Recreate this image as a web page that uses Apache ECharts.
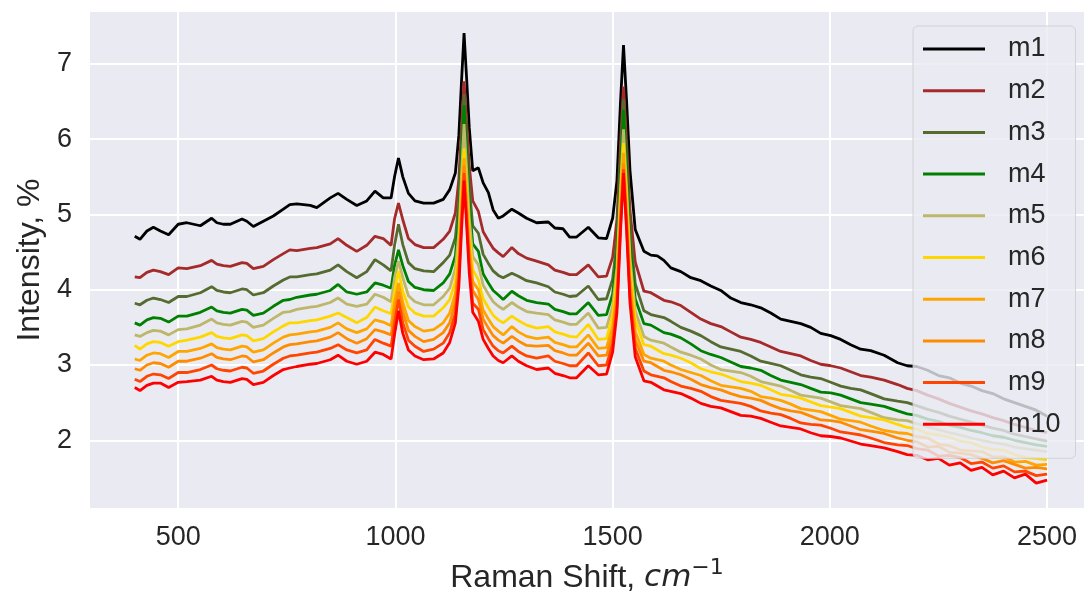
<!DOCTYPE html>
<html>
<head>
<meta charset="utf-8">
<script src="https://cdn.jsdelivr.net/npm/echarts/dist/echarts.min.js"></script>
<style>
html,body{margin:0;padding:0;background:#ffffff;}
#chart{width:1084px;height:594px;}
</style>
</head>
<body>
<div id="chart"></div>
<script>
const xs = [400,412,428,443,459,478,500,520,551,577,589,604,620,647,658,673,696,719,742,757,773,804,819,850,868,888,911,934,953,972,990,998,1007,1017,1030,1045,1065,1088,1110,1125,1138,1146,1152,1158,1164,1170,1178,1191,1202,1214,1225,1237,1248,1268,1283,1302,1325,1352,1367,1386,1401,1417,1444,1467,1486,1500,1510,1518,1525,1532,1540,1552,
1572,1588,1603,1618,1634,1657,1680,1703,1726,1749,1772,1795,1818,1841,1864,1887,1910,1933,1956,1979,2002,2025,2048,2071,2094,2125,2156,2178,2200,
2225,2250,2275,2300,2325,2350,2375,2400,2425,2450,2475,2500];

const m1 = [4.71,4.67,4.78,4.83,4.78,4.73,4.87,4.89,4.85,4.95,
4.89,4.87,4.87,4.94,4.91,4.84,4.91,4.98,5.07,5.13,
5.14,5.12,5.09,5.22,5.28,5.20,5.12,5.18,5.31,5.22,
5.22,5.50,5.75,5.50,5.28,5.18,5.15,5.15,5.20,5.33,
5.55,6.05,6.75,7.41,6.80,6.15,5.58,5.62,5.42,5.29,
5.06,4.95,4.98,5.07,5.02,4.95,4.89,4.90,4.82,4.81,
4.70,4.70,4.83,4.69,4.68,4.95,5.45,6.48,7.25,6.52,
5.58,4.80,
4.51,4.46,4.45,4.39,4.29,4.24,4.16,4.12,4.05,3.99,3.89,3.83,3.80,3.76,3.69,3.61,3.58,3.55,3.50,3.42,3.39,3.34,3.27,3.21,3.19,3.13,3.03,2.99,2.98,
2.93,2.86,2.83,2.76,2.72,2.66,2.62,2.55,2.50,2.45,2.40,2.32];

const m2 = [4.17,4.16,4.23,4.26,4.24,4.20,4.29,4.28,4.32,4.39,
4.34,4.32,4.31,4.36,4.35,4.28,4.31,4.40,4.48,4.53,
4.52,4.55,4.56,4.61,4.68,4.59,4.51,4.59,4.71,4.68,
4.59,4.94,5.15,4.93,4.68,4.60,4.56,4.56,4.67,4.78,
5.02,5.47,6.14,6.77,6.22,5.65,5.18,5.04,4.77,4.65,
4.55,4.49,4.44,4.56,4.48,4.42,4.38,4.33,4.26,4.23,
4.20,4.20,4.33,4.17,4.18,4.43,4.93,5.93,6.70,5.97,
5.05,4.37,
3.98,3.96,3.91,3.86,3.84,3.79,3.70,3.61,3.55,3.51,3.44,3.37,3.34,3.30,3.24,3.18,3.15,3.12,3.06,3.01,2.99,2.96,2.91,2.86,2.84,2.80,2.74,2.69,2.66,
2.60,2.55,2.49,2.44,2.39,2.35,2.30,2.26,2.21,2.17,2.13,2.10];

const m3 = [3.82,3.80,3.86,3.89,3.87,3.83,3.91,3.91,3.96,4.04,
3.99,3.97,3.96,4.01,4.00,3.93,3.96,4.05,4.13,4.17,
4.17,4.20,4.21,4.26,4.33,4.24,4.16,4.24,4.40,4.33,
4.25,4.59,4.87,4.60,4.36,4.28,4.25,4.24,4.36,4.46,
4.69,5.17,5.91,6.60,5.99,5.36,4.85,4.75,4.47,4.35,
4.25,4.19,4.16,4.22,4.18,4.12,4.09,4.04,3.97,3.94,
3.91,3.92,4.05,3.87,3.88,4.14,4.67,5.73,6.53,5.77,
4.80,4.08,
3.72,3.67,3.65,3.63,3.58,3.50,3.45,3.39,3.31,3.24,3.21,3.18,3.12,3.05,3.02,2.99,2.93,2.87,2.84,2.82,2.77,2.72,2.69,2.67,2.62,2.55,2.52,2.50,2.46,
2.41,2.37,2.32,2.28,2.24,2.20,2.16,2.13,2.08,2.05,2.02,1.99];

const m4 = [3.56,3.53,3.60,3.63,3.62,3.57,3.65,3.65,3.70,3.77,
3.72,3.70,3.69,3.74,3.73,3.66,3.69,3.78,3.86,3.87,
3.90,3.93,3.94,3.99,4.07,3.97,3.94,3.97,4.09,4.06,
4.02,4.32,4.53,4.32,4.11,4.03,4.00,3.99,4.09,4.21,
4.45,4.95,5.73,6.45,5.81,5.14,4.61,4.51,4.21,4.09,
3.99,3.93,3.87,3.98,3.92,3.86,3.83,3.81,3.74,3.71,
3.68,3.68,3.83,3.66,3.67,3.94,4.49,5.57,6.39,5.62,
4.62,3.88,
3.55,3.53,3.48,3.43,3.41,3.36,3.28,3.19,3.14,3.10,3.04,2.98,2.96,2.93,2.86,2.80,2.77,2.74,2.69,2.64,2.63,2.60,2.55,2.50,2.48,2.45,2.39,2.35,2.33,
2.28,2.25,2.20,2.17,2.13,2.10,2.06,2.04,2.00,1.97,1.94,1.92];

const m5 = [3.40,3.38,3.43,3.46,3.45,3.40,3.47,3.48,3.53,3.61,
3.56,3.54,3.53,3.58,3.57,3.50,3.53,3.62,3.70,3.71,
3.74,3.77,3.78,3.83,3.89,3.81,3.78,3.81,3.94,3.90,
3.84,4.16,4.38,4.16,3.92,3.84,3.80,3.80,3.91,4.02,
4.28,4.76,5.51,6.20,5.59,4.95,4.44,4.33,4.06,3.94,
3.84,3.78,3.74,3.83,3.77,3.71,3.69,3.67,3.60,3.57,
3.54,3.54,3.69,3.49,3.50,3.78,4.30,5.34,6.13,5.38,
4.43,3.72,
3.38,3.33,3.31,3.29,3.24,3.17,3.13,3.08,3.00,2.94,2.92,2.90,2.85,2.78,2.75,2.72,2.66,2.60,2.58,2.56,2.51,2.46,2.44,2.42,2.37,2.30,2.27,2.26,2.22,
2.18,2.14,2.10,2.07,2.03,2.00,1.97,1.95,1.91,1.89,1.87,1.85];

const m6 = [3.26,3.21,3.28,3.31,3.30,3.25,3.31,3.33,3.37,3.43,
3.38,3.36,3.35,3.40,3.39,3.32,3.35,3.44,3.52,3.56,
3.56,3.59,3.60,3.65,3.69,3.63,3.56,3.63,3.77,3.72,
3.68,3.98,4.25,3.98,3.77,3.69,3.65,3.65,3.76,3.87,
4.11,4.56,5.24,5.88,5.32,4.74,4.27,4.13,3.88,3.76,
3.66,3.60,3.56,3.65,3.59,3.53,3.49,3.51,3.44,3.41,
3.38,3.37,3.54,3.34,3.35,3.66,4.17,5.19,5.95,5.23,
4.29,3.60,
3.27,3.25,3.20,3.15,3.13,3.09,3.03,2.95,2.91,2.88,2.83,2.78,2.76,2.73,2.67,2.61,2.59,2.56,2.51,2.46,2.44,2.42,2.37,2.32,2.30,2.27,2.21,2.17,2.15,
2.09,2.07,2.04,1.99,1.97,1.91,1.88,1.87,1.81,1.77,1.76,1.74];

const m7 = [3.08,3.06,3.13,3.16,3.15,3.10,3.18,3.18,3.22,3.28,
3.23,3.21,3.20,3.25,3.24,3.17,3.20,3.29,3.37,3.40,
3.41,3.44,3.45,3.50,3.56,3.48,3.43,3.48,3.60,3.57,
3.52,3.83,4.09,3.83,3.59,3.51,3.45,3.47,3.56,3.69,
3.95,4.41,5.10,5.75,5.18,4.59,4.11,4.00,3.73,3.61,
3.51,3.45,3.40,3.51,3.44,3.38,3.35,3.37,3.30,3.27,
3.24,3.24,3.40,3.22,3.23,3.51,4.02,5.05,5.82,5.09,
4.15,3.45,
3.14,3.09,3.07,3.05,3.00,2.94,2.90,2.86,2.79,2.73,2.71,2.69,2.65,2.58,2.56,2.53,2.48,2.42,2.40,2.38,2.33,2.28,2.26,2.24,2.19,2.13,2.10,2.09,2.05,
2.03,1.95,1.93,1.87,1.86,1.85,1.78,1.78,1.71,1.72,1.67,1.68];

const m8 = [2.95,2.93,3.00,3.03,3.02,2.97,3.05,3.05,3.09,3.15,
3.10,3.08,3.07,3.12,3.11,3.04,3.07,3.16,3.24,3.27,
3.28,3.31,3.32,3.37,3.43,3.35,3.29,3.35,3.47,3.44,
3.40,3.70,3.98,3.71,3.46,3.38,3.31,3.34,3.43,3.56,
3.83,4.29,4.99,5.65,5.07,4.47,3.99,3.87,3.61,3.49,
3.39,3.33,3.29,3.38,3.32,3.26,3.25,3.26,3.19,3.16,
3.13,3.13,3.29,3.12,3.13,3.39,3.90,4.92,5.68,4.96,
4.02,3.33,
3.05,3.03,2.98,2.93,2.91,2.87,2.81,2.74,2.70,2.67,2.62,2.58,2.56,2.53,2.47,2.42,2.39,2.37,2.32,2.27,2.26,2.24,2.19,2.14,2.12,2.09,2.03,2.00,1.98,
1.91,1.92,1.84,1.83,1.81,1.76,1.70,1.73,1.68,1.63,1.64,1.62];

const m9 = [2.81,2.78,2.85,2.88,2.87,2.82,2.90,2.90,2.94,3.00,
2.95,2.93,2.92,2.97,2.96,2.89,2.92,3.01,3.09,3.12,
3.13,3.16,3.17,3.22,3.27,3.20,3.16,3.20,3.34,3.29,
3.25,3.55,3.87,3.56,3.33,3.25,3.18,3.21,3.29,3.43,
3.69,4.16,4.88,5.55,4.96,4.35,3.82,3.74,3.47,3.35,
3.25,3.19,3.16,3.25,3.18,3.12,3.09,3.12,3.05,3.02,
2.99,2.99,3.16,2.99,3.00,3.28,3.79,4.83,5.60,4.87,
3.92,3.22,
2.92,2.87,2.85,2.83,2.78,2.72,2.69,2.65,2.58,2.53,2.51,2.49,2.45,2.39,2.36,2.34,2.29,2.23,2.21,2.20,2.16,2.11,2.09,2.07,2.03,1.97,1.94,1.93,1.89,
1.87,1.79,1.80,1.77,1.69,1.71,1.63,1.66,1.58,1.59,1.53,1.55];

const m10 = [2.70,2.66,2.73,2.76,2.76,2.70,2.77,2.78,2.80,2.85,
2.80,2.78,2.77,2.82,2.81,2.74,2.77,2.86,2.94,2.96,
2.98,3.01,3.02,3.07,3.13,3.05,3.01,3.05,3.17,3.14,
3.08,3.40,3.72,3.42,3.20,3.12,3.07,3.08,3.16,3.30,
3.56,4.04,4.77,5.45,4.85,4.22,3.70,3.58,3.34,3.22,
3.12,3.06,3.03,3.12,3.05,2.99,2.94,2.96,2.89,2.86,
2.83,2.83,2.99,2.87,2.88,3.17,3.70,4.76,5.55,4.80,
3.82,3.11,
2.79,2.77,2.72,2.67,2.65,2.62,2.56,2.49,2.45,2.43,2.38,2.33,2.32,2.29,2.24,2.19,2.17,2.15,2.10,2.06,2.05,2.03,1.99,1.95,1.93,1.90,1.85,1.81,1.80,
1.74,1.76,1.67,1.70,1.60,1.64,1.54,1.59,1.50,1.55,1.43,1.47];

const seriesNames = ['m1','m2','m3','m4','m5','m6','m7','m8','m9','m10'];
const seriesValues = [m1,m2,m3,m4,m5,m6,m7,m8,m9,m10];
const seriesColors = ['#000000','#A52A2A','#556B2F','#008000','#BDB76B','#FFD700','#FFA500','#FF8C00','#FF4500','#FF0000'];
const xTicks = [500,1000,1500,2000,2500];
const yTicks = [2,3,4,5,6,7];

const FONT = '"Liberation Sans", Arial, sans-serif';
const TXT = '#262626';

const chart = echarts.init(document.getElementById('chart'), null, {renderer:'canvas'});
const series = seriesNames.map((n,i)=>({
  name:n, type:'line', showSymbol:false, symbol:'none', animation:false,
  color:seriesColors[i],
  lineStyle:{width:2.8, color:seriesColors[i]},
  data: xs.map((x,j)=>[x, seriesValues[i][j]])
}));

chart.setOption({
  animation:false,
  textStyle:{fontFamily:FONT},
  grid:{left:90, right:0, top:12, bottom:86, show:true, backgroundColor:'#EAEAF2', borderWidth:0, containLabel:false, outerBoundsMode:'none'},
  xAxis:{
    type:'value', min:297, max:2585, minInterval:500, maxInterval:500,
    axisLine:{show:false}, axisTick:{show:false},
    splitLine:{show:true, showMinLine:false, showMaxLine:false, lineStyle:{color:'#ffffff', width:2}},
    axisLabel:{fontSize:27, color:TXT, fontFamily:FONT, margin:16,
      formatter:v=> xTicks.includes(v) ? String(v) : ''},
    name:'Raman Shift, {i|cm}{s|−1}', nameLocation:'middle', nameGap:49,
    nameTextStyle:{fontSize:32, color:TXT, fontFamily:FONT, lineHeight:42,
      rich:{i:{fontSize:31, fontStyle:'italic', color:TXT, fontFamily:'"DejaVu Sans", sans-serif', lineHeight:42},
            s:{fontSize:22, color:TXT, fontFamily:'"DejaVu Sans", sans-serif', verticalAlign:'top', lineHeight:22}}}
  },
  yAxis:{
    type:'value', min:1.10, max:7.69, minInterval:1, maxInterval:1,
    axisLine:{show:false}, axisTick:{show:false},
    splitLine:{show:true, showMinLine:false, showMaxLine:false, lineStyle:{color:'#ffffff', width:2}},
    axisLabel:{fontSize:27, color:TXT, fontFamily:FONT, margin:18,
      formatter:v=> yTicks.includes(v) ? String(v) : ''},
    name:'Intensity, %', nameLocation:'middle', nameGap:40, nameRotate:90,
    nameTextStyle:{fontSize:32, color:TXT, fontFamily:FONT}
  },
  legend:{
    show:true, orient:'vertical', left:913, top:26,
    data:seriesNames, icon:'rect', itemWidth:62, itemHeight:3, itemGap:11.7,
    padding:[8,15,19,10],
    backgroundColor:'rgba(234,234,242,0.8)', borderColor:'rgba(204,204,204,0.8)', borderWidth:1, borderRadius:5,
    textStyle:{fontSize:27, color:TXT, fontFamily:FONT, lineHeight:30, padding:[0,0,0,18]}
  },
  series:series
});
</script>
</body>
</html>
